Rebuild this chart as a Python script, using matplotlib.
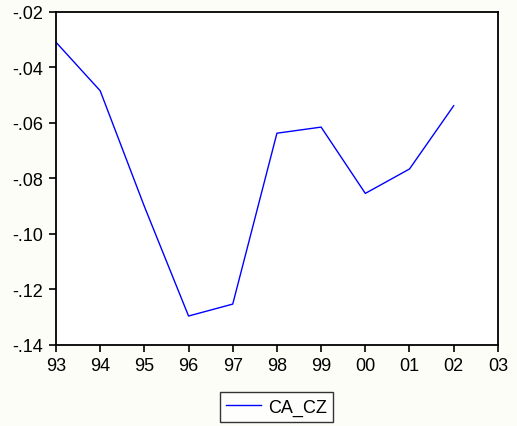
import matplotlib
matplotlib.use("Agg")
import matplotlib.pyplot as plt
from matplotlib.ticker import FuncFormatter

years = [1993, 1994, 1995, 1996, 1997, 1998, 1999, 2000, 2001, 2002]
ca_cz = [-0.0309, -0.0484, -0.0901, -0.1296, -0.1253, -0.0637, -0.0615, -0.0854, -0.0766, -0.0538]
xtick_years = list(range(1993, 2004))
xtick_labels = ["93", "94", "95", "96", "97", "98", "99", "00", "01", "02", "03"]
yticks = [-0.14, -0.12, -0.10, -0.08, -0.06, -0.04, -0.02]

plt.rcParams['font.family'] = ['Liberation Sans', 'DejaVu Sans']

fig = plt.figure(figsize=(5.17, 4.27), dpi=100, facecolor='#fdfdf8')
ax = fig.add_axes([0.1083, 0.190, 0.963 - 0.1083, 0.9696 - 0.190])
ax.set_facecolor('white')

ax.plot(years, ca_cz, color='#0000ff', linewidth=1.0, label='CA_CZ')

ax.set_xlim(1993, 2003)
ax.set_ylim(-0.14, -0.02)
ax.set_xticks(xtick_years)
ax.set_xticklabels(xtick_labels)
ax.set_yticks(yticks)

def fmt(v, pos):
    s = "%.2f" % v
    return s.replace("0.", ".", 1)
ax.yaxis.set_major_formatter(FuncFormatter(fmt))

for sp in ax.spines.values():
    sp.set_linewidth(1.3)
    sp.set_color('black')

ax.tick_params(axis='both', direction='out', length=5, width=1.2, labelsize=13,
               top=False, right=False, pad=4)

leg = fig.legend(loc='center', bbox_to_anchor=(0.535, 0.0445), frameon=True,
                 fancybox=False, fontsize=13, handlelength=1.9, borderpad=0.35,
                 handletextpad=0.4)
leg.get_frame().set_edgecolor('black')
leg.get_frame().set_linewidth(1.0)

fig.savefig('out.png', dpi=100, facecolor=fig.get_facecolor())
